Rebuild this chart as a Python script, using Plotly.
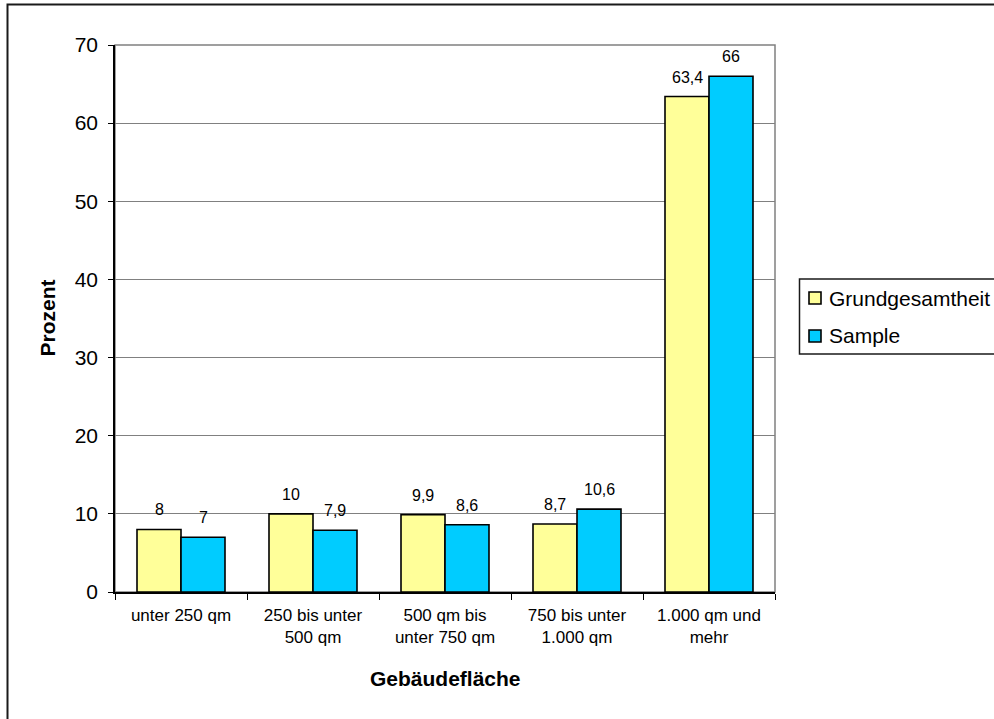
import plotly.graph_objects as go

# Building floor area classes and shares (percent)
categories = ["unter 250 qm", "250 bis unter<br>500 qm", "500 qm bis<br>unter 750 qm",
              "750 bis unter<br>1.000 qm", "1.000 qm und<br>mehr"]
grundgesamtheit = [8, 10, 9.9, 8.7, 63.4]
sample = [7, 7.9, 8.6, 10.6, 66]
y_ticks = [0, 10, 20, 30, 40, 50, 60, 70]

series = [("Grundgesamtheit", grundgesamtheit, "#FFFF99", -22),
          ("Sample", sample, "#00CCFF", 22)]

FONT = "Liberation Sans, Arial, sans-serif"

# plot area in pixels
L, R, T, B = 115, 219, 45, 127
W, H = 994, 719
PW, PH = W - L - R, H - T - B


def px(x):
    return (x - L) / PW


def py(y):
    return (H - B - y) / PH


def fmt(v):
    return ("%g" % v).replace(".", ",")


fig = go.Figure()
annotations = []
for name, vals, color, shift in series:
    fig.add_trace(go.Bar(
        name=name, x=categories, y=vals,
        marker=dict(color=color, line=dict(color="black", width=1.6)),
        showlegend=False,
    ))
    for c, v in zip(categories, vals):
        annotations.append(dict(
            x=c, y=v, xref="x", yref="y", text=fmt(v), showarrow=False,
            xshift=shift, yanchor="bottom", yshift=9,
            font=dict(family=FONT, size=16, color="black"),
        ))

# axis titles
annotations.append(dict(x=0.5, y=py(678), xref="paper", yref="paper", text="<b>Gebäudefläche</b>",
                        xanchor="center", yanchor="middle", showarrow=False,
                        font=dict(family=FONT, size=21, color="black")))
annotations.append(dict(x=px(47), y=0.5, xref="paper", yref="paper", text="<b>Prozent</b>",
                        xanchor="center", yanchor="middle", textangle=-90, showarrow=False,
                        font=dict(family=FONT, size=21, color="black")))

shapes = [
    # outer chart frame
    dict(type="rect", xref="paper", yref="paper", x0=px(7.5), x1=px(1010), y0=py(740), y1=py(4.5),
         line=dict(color="#1a1a1a", width=2), layer="below"),
    # plot area border
    dict(type="rect", xref="paper", yref="paper", x0=0, x1=1, y0=0, y1=1,
         line=dict(color="#808080", width=1.5), layer="below"),
    # legend box
    dict(type="rect", xref="paper", yref="paper", x0=px(799.5), x1=px(1010), y0=py(354), y1=py(279),
         line=dict(color="#1a1a1a", width=1.5)),
]

# legend entries
legend_rows = [298, 336]
for (name, vals, color, shift), yc in zip(series, legend_rows):
    shapes.append(dict(type="rect", xref="paper", yref="paper",
                       x0=px(809), x1=px(821), y0=py(yc + 6), y1=py(yc - 6),
                       fillcolor=color, line=dict(color="black", width=1.6)))
    annotations.append(dict(x=px(827), y=py(yc), xref="paper", yref="paper", text=name,
                            xanchor="left", yanchor="middle", showarrow=False,
                            font=dict(family=FONT, size=21, color="black")))

fig.update_layout(
    width=W, height=H,
    margin=dict(l=L, r=R, t=T, b=B, pad=0),
    paper_bgcolor="white", plot_bgcolor="white",
    barmode="group", bargap=1 / 3, bargroupgap=0,
    showlegend=False,
    annotations=annotations, shapes=shapes,
    xaxis=dict(
        showline=True, linecolor="black", linewidth=1.5,
        ticks="outside", tickson="boundaries", ticklen=6, tickcolor="black", tickwidth=1.2,
        tickfont=dict(family=FONT, size=17, color="black"), ticklabelstandoff=7,
        showgrid=False, zeroline=False,
    ),
    yaxis=dict(
        range=[0, 70], tickvals=y_ticks,
        showline=True, linecolor="black", linewidth=1.5,
        ticks="outside", ticklen=5, tickcolor="black", tickwidth=1.2,
        tickfont=dict(family=FONT, size=21, color="black"), ticklabelstandoff=6,
        showgrid=True, gridcolor="#808080", gridwidth=1,
        zeroline=False,
    ),
)

fig.write_html("out.html")
